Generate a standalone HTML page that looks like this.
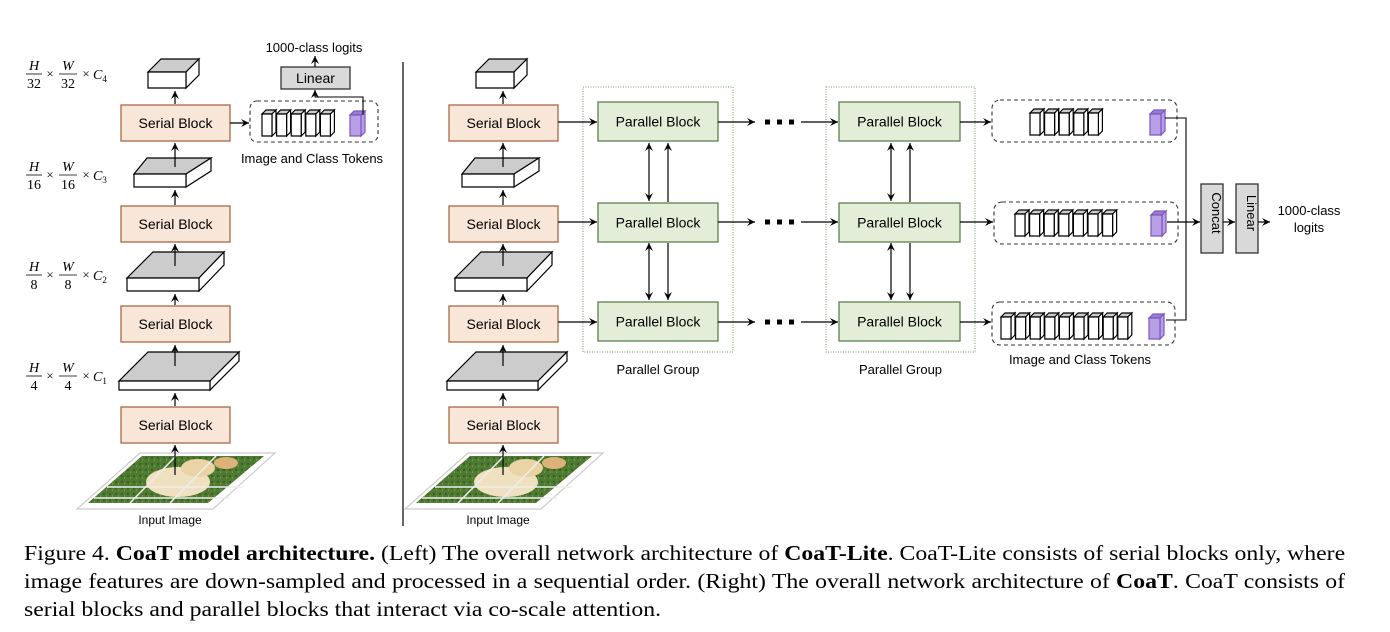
<!DOCTYPE html>
<html><head><meta charset="utf-8"><style>
html,body{margin:0;padding:0;background:#fff;}
#wrap{position:relative;width:1390px;height:632px;overflow:hidden;}
svg{position:absolute;left:0;top:0;}
.cap{position:absolute;left:24px;width:1201px;font-family:"Liberation Serif",serif;font-size:21.6px;color:#000;white-space:nowrap;transform:scaleX(1.1);transform-origin:0 0;}
.j{text-align:justify;text-align-last:justify;white-space:normal;}
</style></head><body><div id="wrap">
<svg id="s" width="1390" height="632" xmlns="http://www.w3.org/2000/svg" font-family="Liberation Sans, sans-serif">
<defs>
<marker id="ah" markerWidth="10" markerHeight="10" refX="8" refY="5" orient="auto" markerUnits="userSpaceOnUse">
<path d="M0,1 L8,5 L0,9 L3,5 Z" fill="#000"/></marker>
<marker id="ahs" markerWidth="10" markerHeight="10" refX="2" refY="5" orient="auto" markerUnits="userSpaceOnUse">
<path d="M10,1 L2,5 L10,9 L7,5 Z" fill="#000"/></marker>
<pattern id="grass" width="6" height="6" patternUnits="userSpaceOnUse">
<rect width="6" height="6" fill="#4f7a32"/><rect x="1" y="1" width="2" height="2" fill="#3b5e24"/><rect x="4" y="3" width="1" height="2" fill="#6f9a45"/></pattern>
</defs>
<g id="g"></g>
</svg>
<div class="cap j" style="top:541px;">Figure 4. <b>CoaT model architecture.</b> (Left) The overall network architecture of <b>CoaT-Lite</b>. CoaT-Lite consists of serial blocks only, where</div>
<div class="cap j" style="top:569px;">image features are down-sampled and processed in a sequential order. (Right) The overall network architecture of <b>CoaT</b>. CoaT consists of</div>
<div class="cap" style="top:597px;">serial blocks and parallel blocks that interact via co-scale attention.</div>
</div>
<script>
var h='';
function A(s){h+=s;}
function line(x1,y1,x2,y2,arrow,start){A('<line x1="'+x1+'" y1="'+y1+'" x2="'+x2+'" y2="'+y2+'" stroke="#000" stroke-width="1.2"'+(arrow?' marker-end="url(#ah)"':'')+(start?' marker-start="url(#ahs)"':'')+'/>');}
function poly(p,f,st){A('<polygon points="'+p+'" fill="'+f+'" stroke="'+(st||'#000')+'" stroke-width="1.2"/>');}
function txt(x,y,t,sz,anchor,extra){A('<text x="'+x+'" y="'+y+'" font-size="'+sz+'" text-anchor="'+(anchor||'middle')+'" '+(extra||'')+'>'+t+'</text>');}
function box(x,y,w,hh,f,s,t){A('<rect x="'+x+'" y="'+y+'" width="'+w+'" height="'+hh+'" fill="'+f+'" stroke="'+s+'" stroke-width="1.3"/>');if(t)txt(x+w/2,y+hh/2+5,t,14);}
function slab(fx1,fx2,fy1,fy2,bx1,bx2,by){
 poly(fx1+','+fy1+' '+bx1+','+by+' '+bx2+','+by+' '+fx2+','+fy1,'#cccccc');
 poly(fx2+','+fy1+' '+bx2+','+by+' '+bx2+','+(by+(fy2-fy1))+' '+fx2+','+fy2,'#fff');
 poly(fx1+','+fy1+' '+fx2+','+fy1+' '+fx2+','+fy2+' '+fx1+','+fy2,'#fff');
}
function cube(x,y,w,hh,d,fc,tc,sc){
 poly(x+','+y+' '+(x+d)+','+(y-d)+' '+(x+w+d)+','+(y-d)+' '+(x+w)+','+y,tc,sc);
 poly((x+w)+','+y+' '+(x+w+d)+','+(y-d)+' '+(x+w+d)+','+(y+hh-d)+' '+(x+w)+','+(y+hh),fc,sc);
 poly(x+','+y+' '+(x+w)+','+y+' '+(x+w)+','+(y+hh)+' '+x+','+(y+hh),fc,sc);
}
function tokens(x0,n,pitch,y,px){
 for(var i=0;i<n;i++)cube(x0+i*pitch,y,10,22,4,'#fff','#cccccc','#000');
 cube(px,y+1,11,21,4,'#b8a0e6','#9a7fd0','#7d55c0');
}
function image(dx){
 var p=[[77+dx,509],[213+dx,509],[275+dx,453],[140+dx,453]];
 poly(p.map(function(a){return a.join(',')}).join(' '),'none','#ccc');
 var q=(88+dx)+',503 '+(208+dx)+',503 '+(264+dx)+',456 '+(142+dx)+',456';
 A('<polygon points="'+q+'" fill="url(#grass)"/>');
 A('<ellipse cx="'+(178+dx)+'" cy="482" rx="32" ry="15" fill="#efe0c0"/>');
 A('<ellipse cx="'+(198+dx)+'" cy="468" rx="17" ry="9" fill="#ead3a5"/>');
 A('<ellipse cx="'+(226+dx)+'" cy="463" rx="12" ry="6" fill="#ddb27a"/>');
 A('<line x1="'+(107+dx)+'" y1="487" x2="'+(244+dx)+'" y2="487" stroke="#eee" stroke-width="1.5"/>');
 A('<line x1="'+(94+dx)+'" y1="498" x2="'+(229+dx)+'" y2="498" stroke="#eee" stroke-width="1.5"/>');
 A('<line x1="'+(130+dx)+'" y1="503" x2="'+(176+dx)+'" y2="456" stroke="#eee" stroke-width="1.5"/>');
 A('<line x1="'+(170+dx)+'" y1="503" x2="'+(216+dx)+'" y2="456" stroke="#eee" stroke-width="1.5"/>');
 txt(170+dx,524,'Input Image',12);
}
function column(dx){
 var SB='#f8e6d8',SS='#a86a45';
 [105,206,306,407].forEach(function(y){box(121+dx,y,109,36,SB,SS,'Serial Block');});
 cube(148+dx,72,38,16,13,'#fff','#cccccc','#000');
 slab(134+dx,186+dx,174,187,147+dx,211+dx,158);
 slab(127+dx,199+dx,278,291,153+dx,224+dx,252);
 slab(119+dx,210+dx,381,390,148+dx,239+dx,352);
 image(dx);
 var x=175+dx;
 line(x,475,x,445,1);line(x,406,x,393,1);line(x,366,x,345,1);line(x,305,x,294,1);
 line(x,266,x,244,1);line(x,205,x,190,1);line(x,167,x,143,1);line(x,104,x,91,1);
}
column(0);column(328);
function frac(y,n,c){
 A('<g font-family="Liberation Serif, serif">');
 A('<text x="34" y="'+(y-4)+'" font-size="14" text-anchor="middle" font-style="italic">H</text>');
 A('<line x1="26" y1="'+y+'" x2="42" y2="'+y+'" stroke="#000" stroke-width="0.8"/>');
 A('<text x="34" y="'+(y+14)+'" font-size="14" text-anchor="middle">'+n+'</text>');
 A('<text x="50" y="'+(y+4)+'" font-size="13" text-anchor="middle">×</text>');
 A('<text x="68" y="'+(y-4)+'" font-size="14" text-anchor="middle" font-style="italic">W</text>');
 A('<line x1="59" y1="'+y+'" x2="77" y2="'+y+'" stroke="#000" stroke-width="0.8"/>');
 A('<text x="68" y="'+(y+14)+'" font-size="14" text-anchor="middle">'+n+'</text>');
 A('<text x="86" y="'+(y+4)+'" font-size="13" text-anchor="middle">×</text>');
 A('<text x="93" y="'+(y+5)+'" font-size="14" font-style="italic">C<tspan font-size="9" dy="3" font-style="normal">'+c+'</tspan></text>');
 A('</g>');
}
frac(74,'32','4');frac(175,'16','3');frac(275,'8','2');frac(376,'4','1');
box(281,67,69,22,'#d9d9d9','#333','Linear');
txt(314,52,'1000-class logits',13);
line(315,67,315,56,1);
A('<rect x="250" y="101" width="128" height="41" rx="7" fill="none" stroke="#333" stroke-dasharray="4,3" stroke-width="1.1"/>');
tokens(262,5,14.6,114,350);
line(230,123,249,123,1);
A('<polyline points="363,115 363,97 315,97 315,91" fill="none" stroke="#000" stroke-width="1.1"/>');line(315,96,315,90,1);
txt(312,163,'Image and Class Tokens',13);
line(403,62,403,526,0);
[[583,733],[826,975]].forEach(function(g){A('<rect x="'+g[0]+'" y="87" width="'+(g[1]-g[0])+'" height="265" fill="none" stroke="#7a9a6a" stroke-dasharray="1,1.5" stroke-width="1"/>');txt((g[0]+g[1])/2,374,'Parallel Group',13);});
var PB='#e2eed8',PS='#5f7f4f';
[[102,122],[203,222],[302,322]].forEach(function(r){
 box(598,r[0],120,39,PB,PS,'Parallel Block');box(839,r[0],121,39,PB,PS,'Parallel Block');
 line(558,r[1],597,r[1],1);line(718,r[1],755,r[1],1);
 for(var k=0;k<3;k++)A('<rect x="'+(765+k*12)+'" y="'+(r[1]-2.5)+'" width="5" height="5" fill="#000"/>');
 line(801,r[1],838,r[1],1);
});
[[649,668],[891,910]].forEach(function(c){
 line(c[0],143,c[0],201,1,1);line(c[0],243,c[0],300,1,1);
 line(c[1],202,c[1],143,1);line(c[1],243,c[1],300,1);
});
A('<rect x="992" y="100" width="185" height="42" rx="8" fill="none" stroke="#333" stroke-dasharray="4,3" stroke-width="1.1"/>');
A('<rect x="994" y="202" width="184" height="42" rx="8" fill="none" stroke="#333" stroke-dasharray="4,3" stroke-width="1.1"/>');
A('<rect x="992" y="302" width="183" height="43" rx="8" fill="none" stroke="#333" stroke-dasharray="4,3" stroke-width="1.1"/>');
line(960,122,991,122,1);line(960,222,993,222,1);line(960,322,991,322,1);
tokens(1030,5,14.6,113,1150);
tokens(1015,7,14.6,214,1151);
tokens(1001,9,14.6,317,1149);
txt(1080,364,'Image and Class Tokens',13);
A('<polyline points="1165,118 1186,118 1186,320 1166,320" fill="none" stroke="#000" stroke-width="1.1"/>');
line(1167,222,1200,222,1);
box(1201,184,22,69,'#d9d9d9','#333');box(1236,184,22,69,'#d9d9d9','#333');
A('<text x="1207" y="218" font-size="13" text-anchor="middle" transform="rotate(90 1212 218)">Concat</text>');
A('<text x="1242" y="218" font-size="13" text-anchor="middle" transform="rotate(90 1247 218)">Linear</text>');
line(1223,222,1235,222,1);line(1258,222,1270,222,1);
txt(1309,215,'1000-class',13);txt(1309,232,'logits',13);
document.getElementById('g').innerHTML=h;
</script>
</body></html>
